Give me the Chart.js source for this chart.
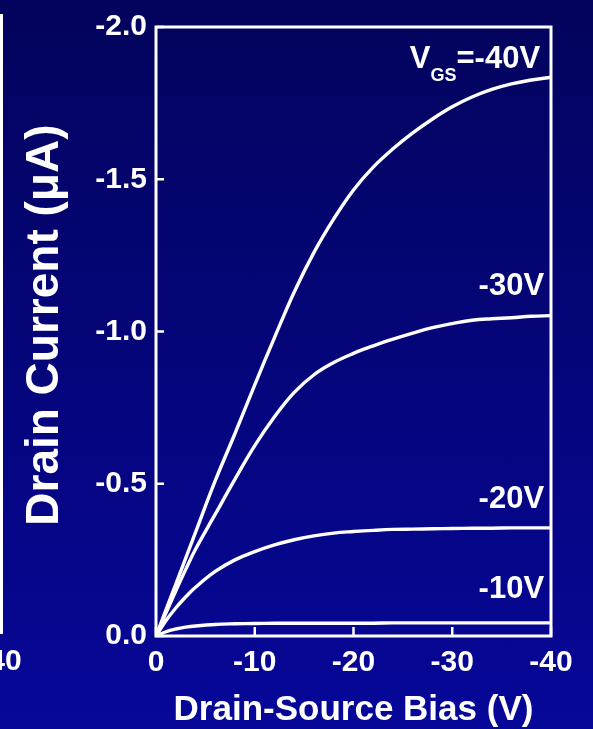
<!DOCTYPE html>
<html>
<head>
<meta charset="utf-8">
<script src="https://cdn.jsdelivr.net/npm/chart.js@4"></script>
<style>
  html, body { margin: 0; padding: 0; }
  body {
    width: 593px;
    height: 729px;
    overflow: hidden;
    background: linear-gradient(#03035d, #070799);
  }
  canvas { display: block; }
</style>
</head>
<body>
<canvas id="ivChart" width="593" height="729"></canvas>
<script>
// drain-source bias (V)
const BIAS = [0, -1, -2, -3, -4, -6, -8, -10, -12, -14, -16, -18, -20, -22, -24, -26, -28, -30, -32, -34, -36, -38, -40]

// drain current (uA) for each gate voltage
const I_VG10 = [0, -0.014, -0.023, -0.029, -0.033, -0.038, -0.040, -0.041, -0.042, -0.042, -0.042, -0.042, -0.042, -0.042, -0.043, -0.043, -0.043, -0.043, -0.043, -0.043, -0.043, -0.043, -0.043]
const I_VG20 = [0, -0.05, -0.092, -0.128, -0.16, -0.212, -0.25, -0.277, -0.299, -0.316, -0.329, -0.338, -0.343, -0.347, -0.35, -0.351, -0.352, -0.353, -0.354, -0.354, -0.355, -0.355, -0.355]
const I_VG30 = [0, -0.075, -0.148, -0.218, -0.285, -0.40, -0.515, -0.625, -0.72, -0.80, -0.858, -0.898, -0.928, -0.953, -0.975, -0.995, -1.013, -1.026, -1.037, -1.042, -1.045, -1.05, -1.052]
const I_VG40 = [0, -0.085, -0.17, -0.255, -0.34, -0.51, -0.665, -0.825, -0.98, -1.13, -1.26, -1.37, -1.465, -1.54, -1.60, -1.652, -1.698, -1.738, -1.77, -1.795, -1.813, -1.826, -1.835]

const GATE_LABELS = ["-10V", "-20V", "-30V", "-40V"]
const X_TICKS = [0, -10, -20, -30, -40]
const Y_TICKS = [0, -0.5, -1.0, -1.5, -2.0]

const FONT = "'Liberation Sans', Arial, sans-serif"
const WHITE = "#ffffff"

function points(values) {
  return BIAS.map(function (b, i) {
    return { x: b, y: values[i] }
  })
}

function curve(values) {
  return {
    data: points(values),
    borderColor: WHITE,
    borderWidth: 3.4,
    pointRadius: 0,
    fill: false,
    tension: 0.4,
  }
}

// white box round the plot, ticks pointing inward
const framePlugin = {
  id: "frame",
  afterDatasetsDraw(chart) {
    const ctx = chart.ctx
    const area = chart.chartArea
    const xs = chart.scales.x
    const ys = chart.scales.y
    ctx.save()
    ctx.strokeStyle = WHITE
    ctx.lineWidth = 3
    ctx.strokeRect(area.left, area.top, area.right - area.left, area.bottom - area.top)

    ctx.lineWidth = 2.5
    X_TICKS.forEach(function (v) {
      const px = xs.getPixelForValue(v)
      ctx.beginPath()
      ctx.moveTo(px, area.bottom)
      ctx.lineTo(px, area.bottom - 9)
      ctx.stroke()
    })
    Y_TICKS.forEach(function (v) {
      const py = ys.getPixelForValue(v)
      ctx.beginPath()
      ctx.moveTo(area.left, py)
      ctx.lineTo(area.left + 8, py)
      ctx.stroke()
    })
    ctx.restore()
  },
}

// curve names at the right edge
const labelPlugin = {
  id: "curveLabels",
  afterDraw(chart) {
    const ctx = chart.ctx
    const xs = chart.scales.x
    const ys = chart.scales.y
    const anchors = [-0.124, -0.422, -1.121, -1.866]
    const right = xs.getPixelForValue(-39.3)

    ctx.save()
    ctx.fillStyle = WHITE
    ctx.textBaseline = "alphabetic"
    ctx.textAlign = "left"

    GATE_LABELS.forEach(function (text, i) {
      const base = ys.getPixelForValue(anchors[i])
      const big = "bold 31px " + FONT
      const small = "bold 18px " + FONT
      if (i < 3) {
        ctx.font = big
        ctx.fillText(text, right - ctx.measureText(text).width, base)
        return
      }
      const rest = "=" + text
      ctx.font = big
      const wV = ctx.measureText("V").width
      const wRest = ctx.measureText(rest).width
      ctx.font = small
      const wSub = ctx.measureText("GS").width
      let x = right - (wV + wSub + wRest) - 4
      ctx.font = big
      ctx.fillText("V", x, base)
      x += wV
      ctx.font = small
      ctx.fillText("GS", x, base + 13)
      x += wSub
      ctx.font = big
      ctx.fillText(rest, x, base)
    })

    // edge of the neighbouring panel, cut off by the crop
    ctx.strokeStyle = WHITE
    ctx.lineWidth = 3
    ctx.beginPath()
    ctx.moveTo(1.5, 14)
    ctx.lineTo(1.5, 634)
    ctx.stroke()
    ctx.font = "bold 30px " + FONT
    ctx.textAlign = "center"
    ctx.textBaseline = "middle"
    ctx.fillText("-40", 0, 662)
    ctx.restore()
  },
}

new Chart(document.getElementById("ivChart"), {
  type: "line",
  data: {
    datasets: [curve(I_VG10), curve(I_VG20), curve(I_VG30), curve(I_VG40)],
  },
  options: {
    responsive: false,
    animation: false,
    devicePixelRatio: 1,
    layout: { padding: { left: 0, right: 42, top: 23, bottom: 0 } },
    plugins: {
      legend: { display: false },
      tooltip: { enabled: false },
    },
    scales: {
      x: {
        type: "linear",
        reverse: true,
        min: -40,
        max: 0,
        afterBuildTicks(scale) {
          scale.ticks = X_TICKS.map(function (v) { return { value: v } })
        },
        afterFit(scale) { scale.height = 93 },
        grid: { display: false, drawTicks: false },
        border: { display: false },
        ticks: {
          color: WHITE,
          padding: 9,
          maxRotation: 0,
          autoSkip: false,
          font: { family: FONT, size: 30, weight: "bold" },
          callback: function (v) { return String(v) },
        },
        title: {
          display: true,
          text: "Drain-Source Bias (V)",
          color: WHITE,
          padding: { top: 0, bottom: -2 },
          font: { family: FONT, size: 35, weight: "bold" },
        },
      },
      y: {
        type: "linear",
        reverse: true,
        min: -2,
        max: 0,
        afterBuildTicks(scale) {
          scale.ticks = Y_TICKS.map(function (v) { return { value: v } })
        },
        afterFit(scale) { scale.width = 156 },
        grid: { display: false, drawTicks: false },
        border: { display: false },
        ticks: {
          color: WHITE,
          padding: 9,
          autoSkip: false,
          font: { family: FONT, size: 30, weight: "bold" },
          callback: function (v) { return v.toFixed(1) },
        },
        title: {
          display: true,
          // leading space nudges the rotated title a little upward, as in the original
          text: " Drain Current (μA)",
          color: WHITE,
          padding: { top: 18, bottom: 0 },
          font: { family: FONT, size: 46, weight: "bold" },
        },
      },
    },
  },
  plugins: [framePlugin, labelPlugin],
})
</script>
</body>
</html>
